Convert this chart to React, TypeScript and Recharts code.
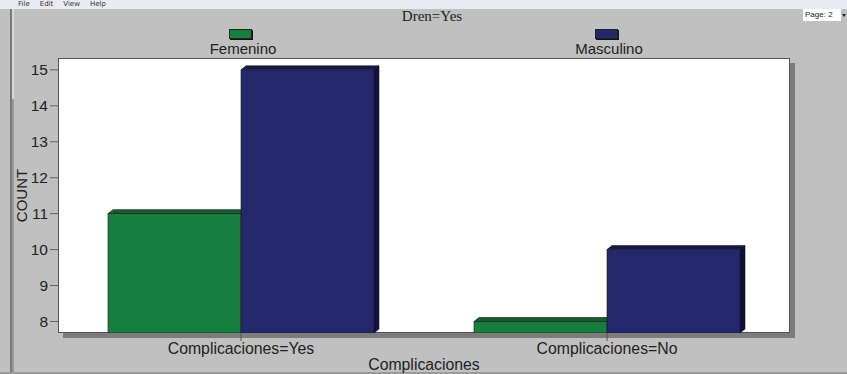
import { BarChart, Bar, XAxis, YAxis, Label } from 'recharts'

const categories = ['Complicaciones=Yes', 'Complicaciones=No']
const femenino = [11, 8]
const masculino = [15, 10]
const yTicks = [8, 9, 10, 11, 12, 13, 14, 15]

const data = categories.map((name, i) => ({
  name,
  Femenino: femenino[i],
  Masculino: masculino[i],
}))

const series = [
  { key: 'Femenino', front: '#167f3f', top: '#1b5a31', side: '#0e3f20' },
  { key: 'Masculino', front: '#24276c', top: '#16184b', side: '#0f1040' },
]

const W = 847
const H = 374
const plot = { left: 58, top: 58, right: 790, bottom: 333 }
const font = 'Arial, "Liberation Sans", sans-serif'

const DX = 5
const DY = 4

function make3D(front: string, top: string, side: string) {
  return (props: any) => {
    const { x, y, width, height } = props
    if (width == null || height == null) return null
    return (
      <g>
        <polygon
          points={`${x},${y} ${x + DX},${y - DY} ${x + width + DX},${y - DY} ${x + width},${y}`}
          fill={top}
          stroke="#111"
          strokeWidth={0.6}
        />
        <polygon
          points={`${x + width},${y} ${x + width + DX},${y - DY} ${x + width + DX},${y + height - DY} ${x + width},${y + height}`}
          fill={side}
          stroke="#111"
          strokeWidth={0.6}
        />
        <rect x={x} y={y} width={width} height={height} fill={front} stroke="#1a1a1a" strokeWidth={0.6} />
      </g>
    )
  }
}

export default function App() {
  const plotW = plot.right - plot.left
  return (
    <div
      style={{
        position: 'absolute',
        left: 0,
        top: 0,
        width: W,
        height: H,
        overflow: 'hidden',
        background: '#c0c0c0',
        fontFamily: font,
      }}
    >
      {/* menu strip */}
      <div style={{ position: 'absolute', left: 0, top: 0, width: W, height: 9, background: '#e8eaf4' }} />
      <div style={{ position: 'absolute', left: 18, top: 0, fontSize: 7, lineHeight: '9px', color: '#333', fontFamily: 'Tahoma, "DejaVu Sans", sans-serif' }}>
        <span style={{ marginRight: 10 }}>File</span>
        <span style={{ marginRight: 10 }}>Edit</span>
        <span style={{ marginRight: 10 }}>View</span>
        <span>Help</span>
      </div>
      {/* left frame */}
      <div style={{ position: 'absolute', left: 10, top: 9, width: 2, height: H - 9, background: '#7a7a7a' }} />
      <div style={{ position: 'absolute', left: 12, top: 9, width: 2, height: 90, background: '#d8d8d8' }} />
      <div style={{ position: 'absolute', left: 12, top: 99, width: 2, height: H - 99, background: '#9a9a9a' }} />
      <div style={{ position: 'absolute', left: 0, top: H - 2, width: W, height: 2, background: '#9a9a9a' }} />

      {/* page selector */}
      <div
        style={{
          position: 'absolute',
          left: 803,
          top: 9,
          width: 38,
          height: 12,
          background: '#fff',
          fontSize: 8,
          lineHeight: '12px',
          color: '#222',
          paddingLeft: 2,
          boxSizing: 'border-box',
        }}
      >
        Page: 2
      </div>
      <div style={{ position: 'absolute', left: 842, top: 14, width: 0, height: 0, borderLeft: '2px solid transparent', borderRight: '2px solid transparent', borderTop: '3px solid #222' }} />

      {/* title */}
      <div
        style={{
          position: 'absolute',
          left: 0,
          top: 8,
          width: 864,
          textAlign: 'center',
          fontFamily: '"Liberation Serif", "Times New Roman", serif',
          fontSize: 15,
          color: '#222',
        }}
      >
        Dren=Yes
      </div>

      {/* legend */}
      {series.map((s, i) => {
        const cx = plot.left + (plotW * (i + 0.5)) / categories.length
        return (
          <div key={s.key}>
            <div
              style={{
                position: 'absolute',
                left: cx - 12,
                top: 29,
                width: 23,
                height: 10,
                background: s.front,
                border: '1px solid #222',
                boxShadow: '1px 1px 0 #111',
                boxSizing: 'border-box',
              }}
            />
            <div
              style={{
                position: 'absolute',
                left: cx - 60,
                top: 40,
                width: 124,
                textAlign: 'center',
                fontSize: 15,
                color: '#222',
              }}
            >
              {s.key}
            </div>
          </div>
        )
      })}

      {/* plot box with shadow */}
      <div
        style={{
          position: 'absolute',
          left: plot.left,
          top: plot.top,
          width: plotW,
          height: plot.bottom - plot.top,
          background: '#fff',
          border: '1px solid #5a5050',
          boxSizing: 'border-box',
          boxShadow: '5px 5px 0 #7c7c7c',
        }}
      />

      <div style={{ position: 'absolute', left: 0, top: 0 }}>
        <BarChart
          width={W}
          height={H}
          data={data}
          margin={{ top: plot.top, right: W - plot.right, bottom: 0, left: 18 }}
          barSize={133}
          barGap={0}
        >
          <XAxis
            dataKey="name"
            height={H - plot.bottom}
            axisLine={false}
            tickLine={{ stroke: '#555' }}
            tickSize={8}
            tick={{ fill: '#222', fontSize: 15.8, fontFamily: font }}
          >
            <Label value="Complicaciones" position="insideBottom" offset={4} style={{ fill: '#222', fontSize: 15.8, fontFamily: font }} />
          </XAxis>
          <YAxis
            type="number"
            width={40}
            domain={[7.68, 15.33]}
            ticks={yTicks}
            allowDataOverflow
            axisLine={false}
            tickLine={{ stroke: '#666' }}
            tickSize={8}
            tick={{ fill: '#222', fontSize: 15.5, fontFamily: font }}
          >
            <Label
              value="COUNT"
              angle={-90}
              position="insideLeft"
              offset={4}
              style={{ fill: '#222', fontSize: 15, fontFamily: font, textAnchor: 'middle' }}
            />
          </YAxis>
          {series.map((s) => (
            <Bar key={s.key} dataKey={s.key} isAnimationActive={false} shape={make3D(s.front, s.top, s.side)} />
          ))}
        </BarChart>
      </div>
    </div>
  )
}
